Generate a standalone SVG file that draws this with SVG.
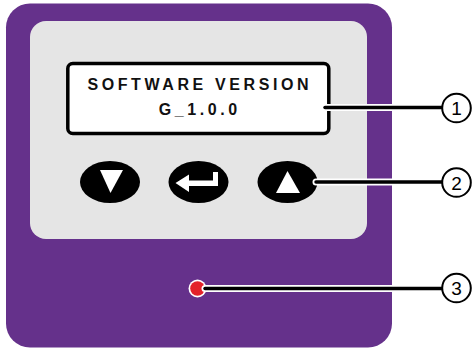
<svg xmlns="http://www.w3.org/2000/svg" width="472" height="350" viewBox="0 0 472 350">
<style>
.halo{stroke:#fff;stroke-width:7;fill:none;stroke-linecap:round}
.lead{stroke:#000;stroke-width:3.5;fill:none;stroke-linecap:round}
.callout{fill:#fff;stroke:#000;stroke-width:2}
.num{font-family:"Liberation Sans",Arial,sans-serif;font-size:19px;text-anchor:middle;fill:#000}
.lcd{font-family:"Liberation Sans",Arial,sans-serif;font-size:16px;font-weight:bold;letter-spacing:3.6px;text-anchor:middle;fill:#111}
.btn{fill:#000}
.icon{fill:#fff}
</style>
<g id="body">
<rect x="6" y="3.5" width="386" height="344" rx="24" fill="#65318b"/>
</g>
<g id="panel">
<rect x="30" y="21" width="337" height="218" rx="16" fill="#e5e5e5"/>
</g>
<g id="display">
<rect x="67.8" y="63.5" width="261" height="70" rx="5" fill="#fff" stroke="#000" stroke-width="3.5"/>
<text class="lcd" x="199.8" y="89.5">SOFTWARE VERSION</text>
<text class="lcd" x="199.8" y="115">G_1.0.0</text>
</g>
<g id="btn-down">
<ellipse class="btn" cx="110" cy="182" rx="30" ry="21"/>
<polygon class="icon" points="100,170 123,170 110.5,193"/>
</g>
<g id="btn-enter">
<ellipse class="btn" cx="198.5" cy="182" rx="30" ry="21"/>
<polygon class="icon" points="175.5,183 189,174.5 189,180.5 213,180.5 213,172 218,172 218,186 189,186 189,192"/>
</g>
<g id="btn-up">
<ellipse class="btn" cx="287.5" cy="182" rx="30" ry="21"/>
<polygon class="icon" points="276,193 300,193 287.5,171"/>
</g>
<g id="led">
<circle cx="197.5" cy="288.5" r="9" fill="#fff"/>
<circle cx="197.5" cy="288.5" r="7.3" fill="#e3222a"/>
</g>
<g id="connectors">
<path class="halo" d="M325,107.5 H442"/>
<path class="halo" d="M316,182 H442"/>
<path class="halo" d="M205,288.5 H442"/>
<path class="lead" d="M325,107.5 H442"/>
<path class="lead" d="M316,182 H442"/>
<path class="lead" d="M205,288.5 H442"/>
</g>
<g id="callout-1">
<circle class="callout" cx="456.5" cy="108" r="14.3"/>
<text class="num" x="456.5" y="115">1</text>
</g>
<g id="callout-2">
<circle class="callout" cx="456.5" cy="182.5" r="14.3"/>
<text class="num" x="456.5" y="189.5">2</text>
</g>
<g id="callout-3">
<circle class="callout" cx="456.5" cy="288" r="14.3"/>
<text class="num" x="456.5" y="295">3</text>
</g>
</svg>
